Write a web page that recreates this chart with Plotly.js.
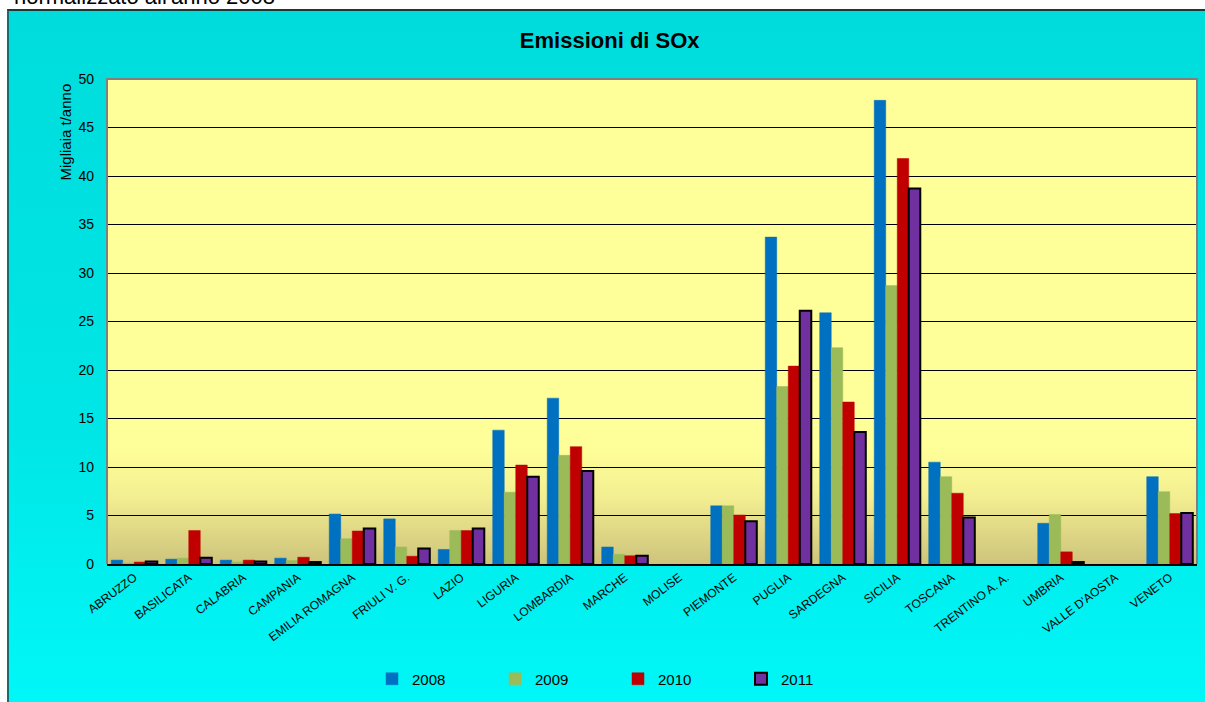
<!DOCTYPE html>
<html><head><meta charset="utf-8">
<script src="https://cdn.plot.ly/plotly-3.0.1.min.js"></script>
<style>
body{margin:0;background:#fff;width:1205px;height:702px;overflow:hidden;position:relative;font-family:"Liberation Sans",Arial,sans-serif}
#note{position:absolute;left:14px;top:-14px;font-size:22px;line-height:22px;color:#000;white-space:nowrap}
#frame{position:absolute;left:7px;top:9px;width:1210px;height:700px;border-left:2px solid #1c6a6a;border-top:2px solid #1a3a3a;background:linear-gradient(to bottom,#00dcdc 0%,#00e6e6 60%,#00f8f8 100%)}
#pbg{position:absolute;left:107px;top:79px;width:1090px;height:485px;background:linear-gradient(to bottom,#ffff99 0%,#ffff99 76%,#f3ef91 86%,#e0d886 93%,#cdc47c 100%)}
#chart{position:absolute;left:0;top:0;width:1205px;height:702px}
</style></head>
<body>
<div id="note">normalizzato all'anno 2008</div>
<div id="frame"></div>
<div id="pbg"></div>
<div id="chart"></div>
<script>
const regions = ["ABRUZZO","BASILICATA","CALABRIA","CAMPANIA","EMILIA ROMAGNA","FRIULI V. G.","LAZIO","LIGURIA","LOMBARDIA","MARCHE","MOLISE","PIEMONTE","PUGLIA","SARDEGNA","SICILIA","TOSCANA","TRENTINO A. A.","UMBRIA","VALLE D'AOSTA","VENETO"];
const years = ["2008","2009","2010","2011"];
const v2008 = [0.4,0.5,0.4,0.6,5.15,4.65,1.5,13.8,17.1,1.75,null,6.0,33.7,25.9,47.8,10.5,null,4.2,null,9.0];
const v2009 = [0.1,0.6,0.2,0.35,2.6,1.75,3.45,7.4,11.2,1.0,null,6.0,18.3,22.3,28.7,9.0,null,5.1,null,7.45];
const v2010 = [0.2,3.45,0.4,0.7,3.4,0.8,3.45,10.2,12.1,0.85,null,5.05,20.4,16.7,41.8,7.3,null,1.25,null,5.2];
const v2011 = [0.25,0.65,0.25,0.2,3.65,1.6,3.65,9.0,9.6,0.85,null,4.4,26.1,13.6,38.7,4.8,null,0.2,null,5.25];
const colors = ["#0070c0","#9bbb59","#c00000","#7030a0"];
const series = [v2008,v2009,v2010,v2011];
const font = "Liberation Sans, Arial, sans-serif";

const traces = series.map((vals,i)=>({
  type:"bar", name:years[i], x:regions, y:vals,
  marker:{color:colors[i], line:{color: i===3 ? "#000000" : colors[i], width: i===3 ? 2 : 0.5}},
  hoverinfo:"x+y+name"
}));

const layout = {
  width:1205, height:702,
  paper_bgcolor:"rgba(0,0,0,0)", plot_bgcolor:"rgba(0,0,0,0)",
  margin:{l:107, r:8, t:79, b:138},
  font:{family:font, color:"#000"},
  title:{text:"<b>Emissioni di SOx</b>", font:{size:22, family:font, color:"#000"}, x:0.506, xref:"container", y:1-40/702, yref:"container", xanchor:"center", yanchor:"middle"},
  barmode:"group", bargap:0.155, bargroupgap:0,
  xaxis:{type:"category", tickangle:-37, tickfont:{size:12, family:font}, showline:true, linecolor:"#000", linewidth:2, ticks:"", showgrid:false, fixedrange:true},
  yaxis:{range:[0,50], dtick:5, tickfont:{size:14, family:font}, showgrid:true, gridcolor:"#000", gridwidth:1, zeroline:false, showline:false, ticks:"", ticklabelstandoff:12, fixedrange:true},
  legend:{orientation:"h", xref:"container", yref:"container", x:372/1205, y:1-679/702, xanchor:"left", yanchor:"middle", font:{size:15, family:font}, entrywidth:78, entrywidthmode:"pixels", bgcolor:"rgba(0,0,0,0)"},
  annotations:[{text:"Migliaia t/anno", textangle:-90, xref:"paper", yref:"paper", x:(65-107)/1090, y:1, xanchor:"center", yanchor:"top", yshift:-3, showarrow:false, font:{size:15, family:font}}],
  shapes:[{type:"path", xref:"paper", yref:"paper", path:"M0,0 L0,1 L1,1 L1,0", line:{color:"#808080", width:2}}]
};
Plotly.newPlot("chart", traces, layout, {displayModeBar:false, staticPlot:true});
</script>
</body></html>
